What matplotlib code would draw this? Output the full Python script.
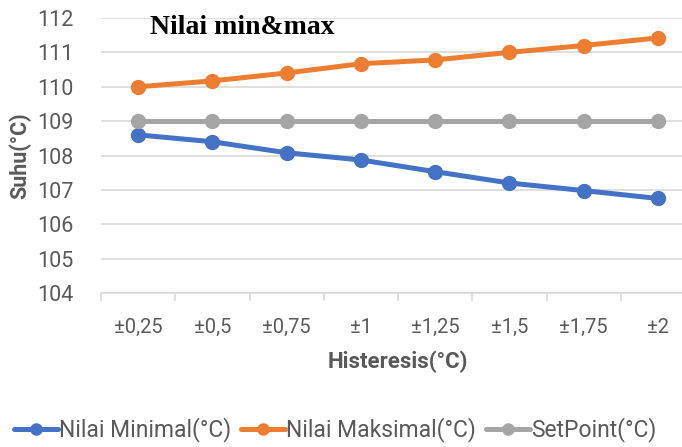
import matplotlib.pyplot as plt
import numpy as np

# data
categories = ['±0,25', '±0,5', '±0,75', '±1', '±1,25', '±1,5', '±1,75', '±2']
nilai_min = [108.6, 108.4, 108.08, 107.87, 107.53, 107.2, 106.98, 106.75]
nilai_max = [110.0, 110.17, 110.4, 110.67, 110.78, 111.0, 111.2, 111.42]
setpoint = [109, 109, 109, 109, 109, 109, 109, 109]

series = [
    ('Nilai Minimal(°C)', nilai_min, '#4472C4'),
    ('Nilai Maksimal(°C)', nilai_max, '#ED7D31'),
    ('SetPoint(°C)', setpoint, '#A5A5A5'),
]

plt.rcParams['font.family'] = ['Roboto', 'DejaVu Sans']
txt = '#595959'

fig = plt.figure(figsize=(6.82, 4.47), dpi=100)
ax = fig.add_axes([101 / 682, 1 - 293 / 447, 594 / 682, 275 / 447])

x = np.arange(len(categories))
for name, vals, col in series:
    ax.plot(x, vals, color=col, lw=3.6, marker='o', ms=10, label=name,
            solid_capstyle='round')

ax.set_xlim(-0.5, len(categories) - 0.5)
ax.set_ylim(104, 112)
ax.set_yticks(np.arange(104, 113, 1))
ax.set_xticks(x)
ax.set_xticklabels(categories)
ax.set_xticks(np.arange(-0.5, len(categories), 1), minor=True)

ax.grid(axis='y', color='#D9D9D9', lw=1.2)
ax.set_axisbelow(True)
for s in ['top', 'right', 'left']:
    ax.spines[s].set_visible(False)
ax.spines['bottom'].set_color('#D9D9D9')
ax.spines['bottom'].set_linewidth(1.2)

ax.tick_params(axis='y', length=0, labelsize=15.5, labelcolor=txt, pad=20)
ax.tick_params(axis='x', which='major', length=0, labelsize=14.5,
               labelcolor=txt, pad=18)
ax.tick_params(axis='x', which='minor', length=6, color='#D9D9D9', width=1.2)

ax.set_ylabel('Suhu(°C)', fontsize=15.5, fontweight='bold', color=txt,
              labelpad=4)
ax.set_xlabel('Histeresis(°C)', fontsize=16, fontweight='bold', color=txt,
              labelpad=10)

fig.text(150 / 682, 1 - 28 / 447, 'Nilai min&max', fontsize=20,
         fontweight='bold', family='Liberation Serif', color='black',
         va='center')

fig.legend(loc='center left', bbox_to_anchor=(14 / 682, 1 - 430 / 447),
           ncol=3, frameon=False, fontsize=16.5, labelcolor=txt,
           handlelength=1.9, columnspacing=0.45, handletextpad=0.05,
           markerscale=0.8, borderpad=0, borderaxespad=0)

fig.savefig('out.png', dpi=100)
